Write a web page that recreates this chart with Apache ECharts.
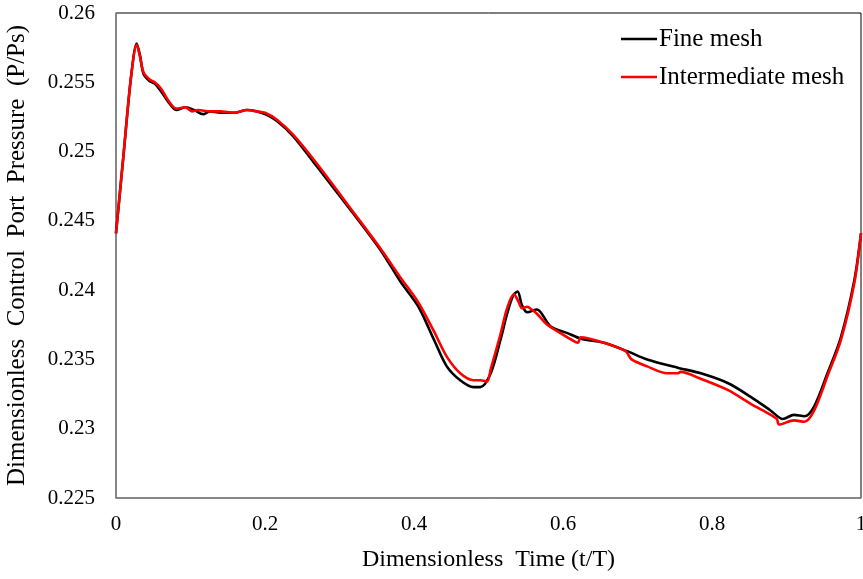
<!DOCTYPE html>
<html>
<head>
<meta charset="utf-8">
<script src="https://cdn.jsdelivr.net/npm/echarts@6/dist/echarts.min.js"></script>
<style>
    html, body { margin: 0; padding: 0; background: #fff; overflow: hidden; }
    #chart { width: 863px; height: 579px; }
</style>
</head>
<body>
<div id="chart"></div>
<script>
// 数据：无量纲时间 与 控制口压力
const fineT = [0, 0.01, 0.02, 0.0278, 0.032, 0.037, 0.045, 0.052, 0.061, 0.070, 0.081, 0.093, 0.105, 0.117, 0.126, 0.14, 0.158, 0.176, 0.189, 0.2, 0.216, 0.238, 0.27, 0.319, 0.355, 0.382, 0.406, 0.427, 0.444, 0.462, 0.48, 0.489, 0.503, 0.516, 0.525, 0.533, 0.539, 0.545, 0.552, 0.565, 0.583, 0.606, 0.624, 0.655, 0.686, 0.713, 0.754, 0.785, 0.821, 0.852, 0.879, 0.895, 0.91, 0.924, 0.937, 0.955, 0.973, 0.991, 1.0];
const fineP = [0.2441, 0.2497, 0.2553, 0.2578, 0.2570, 0.2556, 0.2551, 0.2549, 0.2543, 0.2536, 0.2530, 0.2532, 0.2530, 0.2527, 0.2529, 0.2528, 0.2528, 0.2530, 0.2529, 0.2527, 0.2522, 0.2511, 0.2489, 0.2455, 0.2429, 0.2406, 0.2388, 0.2364, 0.2345, 0.2335, 0.2330, 0.2330, 0.2340, 0.2364, 0.2383, 0.2396, 0.2399, 0.2389, 0.2384, 0.2386, 0.2374, 0.2369, 0.2365, 0.2362, 0.2356, 0.2350, 0.2344, 0.2340, 0.2333, 0.2323, 0.2313, 0.2307, 0.2310, 0.2309, 0.2316, 0.2340, 0.2366, 0.2407, 0.2441];

const interT = [0, 0.01, 0.02, 0.0278, 0.032, 0.037, 0.045, 0.052, 0.061, 0.070, 0.081, 0.093, 0.102, 0.11, 0.126, 0.14, 0.158, 0.176, 0.189, 0.2, 0.216, 0.238, 0.27, 0.319, 0.355, 0.382, 0.406, 0.427, 0.444, 0.462, 0.48, 0.489, 0.498, 0.503, 0.516, 0.525, 0.534, 0.540, 0.545, 0.552, 0.558, 0.565, 0.579, 0.606, 0.620, 0.624, 0.655, 0.684, 0.692, 0.713, 0.740, 0.754, 0.758, 0.785, 0.821, 0.852, 0.879, 0.887, 0.890, 0.91, 0.924, 0.937, 0.955, 0.973, 0.991, 1.0];
const interP = [0.2441, 0.2497, 0.2553, 0.2577, 0.2569, 0.2557, 0.2552, 0.2550, 0.2545, 0.2537, 0.2531, 0.2532, 0.2529, 0.2530, 0.2529, 0.2529, 0.2528, 0.2530, 0.2529, 0.2528, 0.2523, 0.2512, 0.2491, 0.2456, 0.2430, 0.2409, 0.2391, 0.2370, 0.2352, 0.2340, 0.2335, 0.2335, 0.2334, 0.2343, 0.2368, 0.2387, 0.2397, 0.2392, 0.2387, 0.2388, 0.2386, 0.2383, 0.2375, 0.2366, 0.2362, 0.2366, 0.2362, 0.2356, 0.2350, 0.2345, 0.2340, 0.2340, 0.2341, 0.2336, 0.2328, 0.2318, 0.2310, 0.2307, 0.2303, 0.2306, 0.2305, 0.2313, 0.2338, 0.2364, 0.2405, 0.2441];

const seriesNames = ['Fine mesh', 'Intermediate mesh'];
const seriesColors = ['#000000', '#ff0000'];

function zip(ts, ps) {
    return ts.map((t, i) => [t, ps[i]]);
}

const chart = echarts.init(document.getElementById('chart'));
const font = '"Liberation Serif", "DejaVu Serif", serif';

const option = {
    animation: false,
    textStyle: { fontFamily: font },
    grid: {
        left: 116,
        right: 2,
        top: 13,
        bottom: 81,
        outerBoundsMode: 'none',
        show: true,
        borderColor: '#000',
        borderWidth: 1
    },
    legend: {
        data: seriesNames,
        orient: 'vertical',
        left: 616,
        top: 21,
        icon: 'rect',
        itemWidth: 36,
        itemHeight: 2.5,
        itemGap: 12,
        textStyle: { fontFamily: font, fontSize: 25, color: '#000', lineHeight: 26, padding: [0, 0, 0, -3] }
    },
    xAxis: {
        type: 'value',
        min: 0,
        max: 1,
        interval: 0.2,
        name: 'Dimensionless  Time (t/T)',
        nameLocation: 'middle',
        nameGap: 50,
        nameTextStyle: { fontFamily: font, fontSize: 24, color: '#000' },
        axisLine: { show: true, lineStyle: { color: '#898989', width: 1.5 } },
        axisTick: { show: false },
        splitLine: { show: false },
        axisLabel: {
            fontFamily: font, fontSize: 21, color: '#000', margin: 16,
            formatter: v => String(parseFloat(v.toFixed(1)))
        }
    },
    yAxis: {
        type: 'value',
        min: 0.225,
        max: 0.26,
        interval: 0.005,
        name: 'Dimensionless  Control  Port  Pressure  (P/Ps)',
        nameLocation: 'middle',
        nameGap: 86,
        nameTextStyle: { fontFamily: font, fontSize: 25, color: '#000' },
        axisLine: { show: true, lineStyle: { color: '#898989', width: 1.5 } },
        axisTick: { show: false },
        splitLine: { show: false },
        axisLabel: {
            fontFamily: font, fontSize: 21, color: '#000', margin: 21,
            formatter: v => String(parseFloat(v.toFixed(3)))
        }
    },
    series: [{
        name: seriesNames[0],
        type: 'line',
        data: zip(fineT, fineP),
        symbol: 'none',
        smooth: 0.3,
        z: 2,
        lineStyle: { color: seriesColors[0], width: 2.6 },
        itemStyle: { color: seriesColors[0] }
    }, {
        name: seriesNames[1],
        type: 'line',
        data: zip(interT, interP),
        symbol: 'none',
        smooth: 0.3,
        z: 3,
        lineStyle: { color: seriesColors[1], width: 2.6 },
        itemStyle: { color: seriesColors[1] }
    }]
};
chart.setOption(option);
</script>
</body>
</html>
